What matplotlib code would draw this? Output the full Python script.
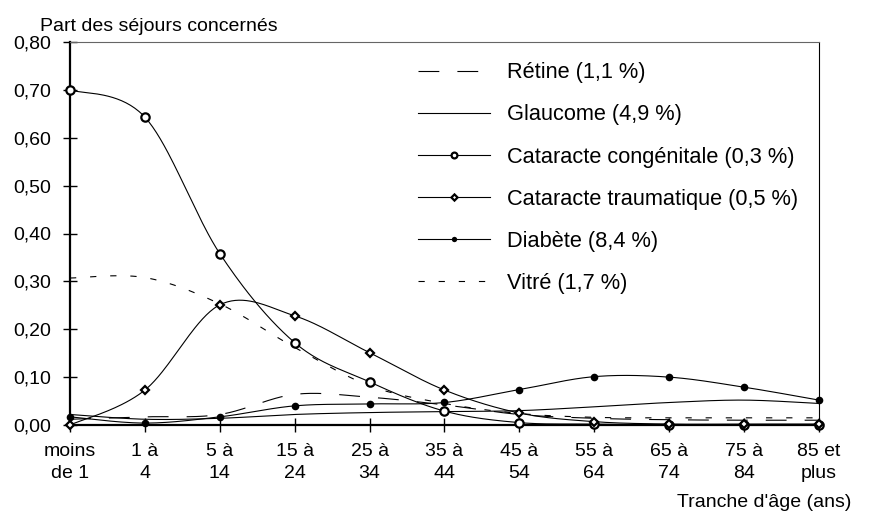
import numpy as np
import matplotlib
matplotlib.use("Agg")
import matplotlib.pyplot as plt

plt.rcParams['font.family'] = ['Liberation Sans', 'DejaVu Sans']
plt.rcParams['lines.scale_dashes'] = False

categories = ["moins\nde 1", "1 à\n4", "5 à\n14", "15 à\n24", "25 à\n34", "35 à\n44",
              "45 à\n54", "55 à\n64", "65 à\n74", "75 à\n84", "85 et\nplus"]
y_ticks = [0.0, 0.1, 0.2, 0.3, 0.4, 0.5, 0.6, 0.7, 0.8]
y_tick_labels = ["0,00", "0,10", "0,20", "0,30", "0,40", "0,50", "0,60", "0,70", "0,80"]

retine = [0.012, 0.017, 0.022, 0.064, 0.058, 0.042, 0.022, 0.014, 0.011, 0.010, 0.010]
glaucome = [0.022, 0.012, 0.014, 0.022, 0.026, 0.028, 0.030, 0.038, 0.047, 0.052, 0.045]
cat_congenitale = [0.700, 0.643, 0.358, 0.172, 0.090, 0.029, 0.005, 0.002, 0.000, 0.000, 0.000]
cat_traumatique = [0.000, 0.073, 0.251, 0.228, 0.151, 0.073, 0.025, 0.007, 0.002, 0.002, 0.002]
diabete = [0.017, 0.004, 0.017, 0.040, 0.044, 0.047, 0.074, 0.101, 0.100, 0.079, 0.052]
vitre = [0.307, 0.308, 0.253, 0.162, 0.082, 0.045, 0.024, 0.016, 0.015, 0.015, 0.015]

labels = ["Rétine (1,1 %)", "Glaucome (4,9 %)", "Cataracte congénitale (0,3 %)",
          "Cataracte traumatique (0,5 %)", "Diabète (8,4 %)", "Vitré (1,7 %)"]


def smooth(values, n=40):
    x = np.arange(len(values), dtype=float)
    P = np.column_stack([x, np.asarray(values, dtype=float)])
    Pp = np.vstack([P[0], P, P[-1]])
    t = np.linspace(0, 1, n)[:, None]
    out = []
    for i in range(len(P) - 1):
        p0, p1 = Pp[i + 1], Pp[i + 2]
        c1 = p0 + (Pp[i + 2] - Pp[i]) / 6.0
        c2 = p1 - (Pp[i + 3] - Pp[i + 1]) / 6.0
        seg = ((1 - t) ** 3) * p0 + 3 * ((1 - t) ** 2) * t * c1 + 3 * (1 - t) * t ** 2 * c2 + t ** 3 * p1
        out.append(seg if i == 0 else seg[1:])
    S = np.vstack(out)
    return S[:, 0], S[:, 1]


fig = plt.figure(figsize=(8.74, 5.17), dpi=100)
ax = fig.add_axes([70 / 874, 92 / 517, 749 / 874, 383 / 517])

FS = 14
LFS = 15.7
lw = 0.8
xs = np.arange(len(categories))

series = [
    (retine, dict(linestyle=(0, (15, 13))), None),
    (glaucome, dict(linestyle='-'), None),
    (cat_congenitale, dict(linestyle='-'), dict(marker='o', ms=6, mew=1.6, mfc='white', mec='black')),
    (cat_traumatique, dict(linestyle='-'), dict(marker='D', ms=4.5, mew=1.6, mfc='white', mec='black')),
    (diabete, dict(linestyle='-'), dict(marker='o', ms=5.5, mew=0, mfc='black', mec='black')),
    (vitre, dict(linestyle=(0, (4.5, 10))), None),
]

handles = []
for (vals, ls, mk), lab in zip(series, labels):
    sx, sy = smooth(vals)
    ax.plot(sx, sy, color='black', lw=lw, clip_on=False, **ls)
    if mk is not None:
        ax.plot(xs, vals, linestyle='none', clip_on=False, zorder=5, **mk)
        h, = ax.plot([], [], color='black', lw=lw, **ls, **mk)
    else:
        h, = ax.plot([], [], color='black', lw=lw, **ls)
    handles.append(h)

ax.set_xlim(0, 10)
ax.set_ylim(0, 0.8)
ax.set_xticks(xs)
ax.set_xticklabels(categories, fontsize=FS, linespacing=1.4)
ax.set_yticks(y_ticks)
ax.set_yticklabels(y_tick_labels, fontsize=FS)
ax.tick_params(axis='both', direction='inout', length=9.5, width=1.0, color='black')
ax.tick_params(axis='x', pad=8)
ax.tick_params(axis='y', pad=8.5)

for s in ['left', 'bottom']:
    ax.spines[s].set_linewidth(1.6)
    ax.spines[s].set_color('black')
ax.spines['top'].set_linewidth(0.8)
ax.spines['top'].set_color('#666666')
ax.spines['right'].set_linewidth(0.8)
ax.spines['right'].set_color('black')

leg = ax.legend(handles, labels, loc='upper left', bbox_to_anchor=(0.465, 0.947),
                frameon=False, fontsize=LFS, handlelength=3.3, handletextpad=0.78,
                labelspacing=0.97, borderaxespad=0, borderpad=0, markerscale=0.7)

fig.text(40 / 874, 1 - 31 / 517, "Part des séjours concernés", fontsize=FS, ha='left', va='baseline')
fig.text(851 / 874, 1 - 507 / 517, "Tranche d'âge (ans)", fontsize=FS, ha='right', va='baseline')

fig.savefig("out.png", dpi=100)
